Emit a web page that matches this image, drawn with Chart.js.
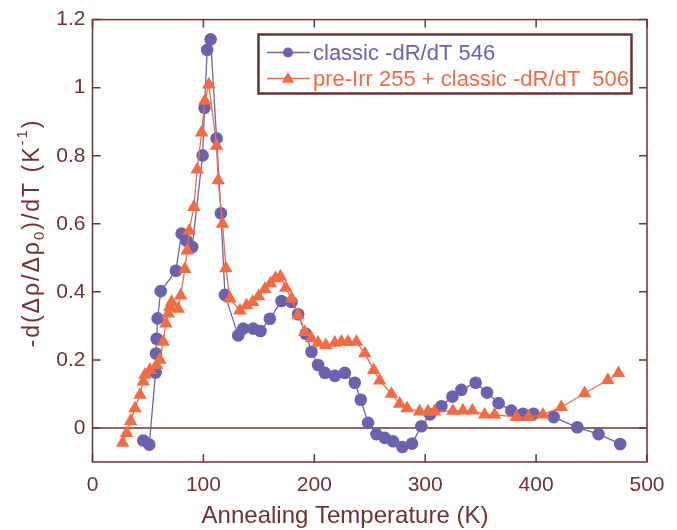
<!DOCTYPE html>
<html><head><meta charset="utf-8">
<script src="https://cdn.jsdelivr.net/npm/chart.js@4.4.0/dist/chart.umd.min.js"></script>
<style>html,body{margin:0;padding:0;background:#fff;}#wrap{width:677px;height:530px;}</style>
</head><body><div id="wrap"><canvas id="c" width="677" height="530"></canvas></div>
<script>
// ---- data ----
const classicT = [45.8,51.2,56.9,57.2,57.8,58.7,61.5,75.2,80.3,84.8,89.9,99.3,101.0,103.4,106.5,111.9,115.8,119.4,131.4,135.9,144.9,151.5,159.9,170.4,179.5,185.4,192.3,197.5,203.4,209.5,218.5,227.5,236.5,241.9,248.5,256.0,263.5,271.0,279.4,288.1,296.5,304.5,314.6,324.5,332.6,345.5,355.7,366.2,377.6,388.1,397.7,415.8,437.1,456.3,475.8];
const classicV = [-0.037,-0.049,0.163,0.219,0.262,0.322,0.402,0.462,0.571,0.550,0.532,0.801,0.941,1.111,1.142,0.851,0.631,0.391,0.272,0.292,0.292,0.285,0.321,0.373,0.370,0.334,0.277,0.224,0.185,0.162,0.153,0.162,0.133,0.083,0.015,-0.018,-0.029,-0.039,-0.056,-0.046,0.005,0.040,0.064,0.092,0.112,0.133,0.104,0.073,0.051,0.042,0.042,0.032,0.002,-0.018,-0.047];
const preIrrT = [27.2,30.8,34.4,38.3,42.8,45.8,47.3,51.8,57.8,60.8,63.8,66.2,68.3,69.8,71.4,77.3,79.5,83.3,85.4,87.2,91.4,94.4,98.4,101.4,104.9,111.9,113.3,117.3,120.3,123.9,132.9,138.9,144.4,149.8,155.4,160.6,165.0,169.5,174.3,179.5,185.4,191.4,197.5,203.4,210.4,218.5,224.5,230.4,238.0,245.5,253.6,259.0,269.5,277.0,283.6,295.0,302.5,308.5,325.0,334.0,342.5,353.6,362.6,382.2,393.5,406.1,422.7,443.7,464.7,474.3];
const preIrrV = [-0.044,-0.015,0.020,0.058,0.097,0.136,0.156,0.170,0.185,0.200,0.253,0.307,0.336,0.355,0.370,0.350,0.389,0.467,0.521,0.579,0.649,0.759,0.868,0.961,1.009,0.829,0.728,0.600,0.469,0.380,0.345,0.360,0.370,0.387,0.408,0.425,0.440,0.445,0.412,0.380,0.331,0.282,0.263,0.250,0.243,0.250,0.253,0.253,0.253,0.219,0.170,0.139,0.100,0.071,0.058,0.048,0.048,0.048,0.050,0.051,0.051,0.039,0.039,0.032,0.032,0.039,0.061,0.102,0.141,0.161];
const xTicks = [0,100,200,300,400,500];
const yTicks = [0,0.2,0.4,0.6,0.8,1,1.2];
const seriesLabels = ['classic -dR/dT 546','pre-Irr 255 + classic -dR/dT  506'];
const xTitle = 'Annealing Temperature (K)';
// y title pieces: [text, kind] kind: n normal, sub, sup
const yTitleParts = [['-d(\u0394\u03C1/\u0394\u03C1','n'],['0','sub'],[')/dT (K','n'],['-1','sup'],[')','n']];

// ---- style ----
const MAROON = '#6e3232';
const BLUE = '#6a62ad';
const ORANGE = '#f26b43';
const FONT = '"Liberation Sans", Arial, Helvetica, sans-serif';

const toPts = (T, V) => T.map((t, i) => ({x: t, y: V[i]}));

const framePlugin = {
  id: 'frame',
  beforeDatasetsDraw(chart) {
    const {ctx, chartArea: a, scales: {y}} = chart;
    const y0 = y.getPixelForValue(0);
    ctx.save();
    ctx.strokeStyle = MAROON; ctx.lineWidth = 1.5;
    ctx.beginPath(); ctx.moveTo(a.left, y0); ctx.lineTo(a.right, y0); ctx.stroke();
    ctx.restore();
  },
  afterDatasetsDraw(chart) {
    const {ctx, chartArea: a, scales: {x, y}} = chart;
    ctx.save();
    ctx.strokeStyle = MAROON; ctx.lineWidth = 1.5;
    ctx.strokeRect(a.left, a.top, a.right - a.left, a.bottom - a.top);
    const L = 8;
    ctx.beginPath();
    xTicks.forEach(v => {
      const px = x.getPixelForValue(v);
      ctx.moveTo(px, a.bottom); ctx.lineTo(px, a.bottom - L);
      ctx.moveTo(px, a.top); ctx.lineTo(px, a.top + L);
    });
    yTicks.forEach(v => {
      const py = y.getPixelForValue(v);
      ctx.moveTo(a.left, py); ctx.lineTo(a.left + L, py);
      ctx.moveTo(a.right, py); ctx.lineTo(a.right - L, py);
    });
    ctx.stroke();
    ctx.restore();
  },
  afterDraw(chart) {
    const {ctx} = chart;
    ctx.save();
    // x title
    ctx.fillStyle = MAROON;
    ctx.font = '24px ' + FONT;
    ctx.textAlign = 'center'; ctx.textBaseline = 'alphabetic';
    ctx.fillText(xTitle, 345, 522.5);
    // y title (rotated, with sub/superscript)
    const cy = 234, baseX = 39, gap = 2;
    const fontFor = k => (k === 'n' ? '23px ' : '15px ') + FONT;
    let total = 0;
    const chars = [];
    yTitleParts.forEach(([t, k]) => {
      ctx.font = fontFor(k);
      for (const ch of t) { const w = ctx.measureText(ch).width; chars.push([ch, k, w]); total += w + gap; }
    });
    total -= gap;
    ctx.translate(baseX, cy);
    ctx.rotate(-Math.PI / 2);
    ctx.textAlign = 'left';
    let cx = -total / 2;
    chars.forEach(([ch, k, w]) => {
      ctx.font = fontFor(k);
      const dy = k === 'sub' ? 5 : (k === 'sup' ? -12 : 0);
      ctx.fillText(ch, cx, dy);
      cx += w + gap;
    });
    ctx.restore();

    // legend
    ctx.save();
    const bx = 258.5, by = 34.5, bw = 373, bh = 59;
    ctx.fillStyle = '#fff'; ctx.fillRect(bx, by, bw, bh);
    ctx.strokeStyle = MAROON; ctx.lineWidth = 2.5; ctx.strokeRect(bx, by, bw, bh);
    const rows = [[BLUE, 'circle', 52.5], [ORANGE, 'triangle', 78.5]];
    rows.forEach(([col, shape, yy], i) => {
      ctx.strokeStyle = col; ctx.lineWidth = 1.5;
      ctx.beginPath(); ctx.moveTo(267, yy); ctx.lineTo(310, yy); ctx.stroke();
      ctx.fillStyle = col;
      ctx.beginPath();
      if (shape === 'circle') { ctx.arc(288, yy, 5, 0, Math.PI * 2); }
      else { const s = 6.5; ctx.moveTo(288, yy - s); ctx.lineTo(288 + s * 0.95, yy + s * 0.65); ctx.lineTo(288 - s * 0.95, yy + s * 0.65); ctx.closePath(); }
      ctx.fill();
      ctx.font = '22px ' + FONT; ctx.textAlign = 'left'; ctx.textBaseline = 'alphabetic';
      ctx.fillText(seriesLabels[i], 313, yy + 7.5);
    });
    ctx.restore();
  }
};

new Chart(document.getElementById('c'), {
  type: 'scatter',
  data: {
    datasets: [
      {label: seriesLabels[0], data: toPts(classicT, classicV), showLine: true,
       borderColor: BLUE, backgroundColor: BLUE, borderWidth: 1.3,
       pointStyle: 'circle', pointRadius: 6.3, pointBorderWidth: 0, order: 2},
      {label: seriesLabels[1], data: toPts(preIrrT, preIrrV), showLine: true,
       borderColor: ORANGE, backgroundColor: ORANGE, borderWidth: 1.3,
       pointStyle: 'triangle', pointRadius: 7.8, pointBorderWidth: 0, order: 1}
    ]
  },
  options: {
    responsive: false, animation: false, devicePixelRatio: 1,
    layout: {padding: {top: 17, right: 30, left: 0, bottom: 0}},
    plugins: {legend: {display: false}, tooltip: {enabled: false}},
    scales: {
      x: {type: 'linear', min: 0, max: 500,
          afterBuildTicks: s => { s.ticks = xTicks.map(v => ({value: v})); },
          afterFit: s => { s.height = 68; },
          grid: {display: false, drawTicks: false}, border: {display: false},
          ticks: {color: MAROON, font: {family: FONT, size: 21}, padding: 11, maxRotation: 0,
                  callback: v => String(v)}},
      y: {type: 'linear', min: -0.1, max: 1.2,
          afterBuildTicks: s => { s.ticks = yTicks.map(v => ({value: v})); },
          afterFit: s => { s.width = 92.5; },
          grid: {display: false, drawTicks: false}, border: {display: false},
          ticks: {color: MAROON, font: {family: FONT, size: 21}, padding: 7,
                  callback: v => String(Number(v.toFixed(1)))}}
    }
  },
  plugins: [framePlugin]
});
</script></body></html>
